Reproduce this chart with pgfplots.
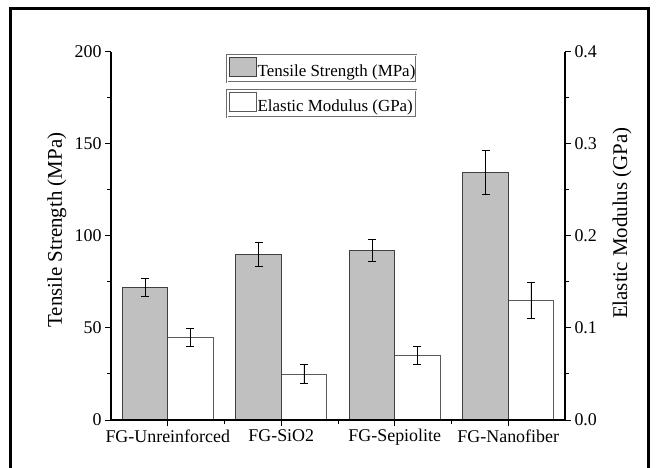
\documentclass[border=0pt]{standalone}
\usepackage{pgfplots}
\pgfplotsset{compat=1.18}
\usepackage{fontspec}
\setmainfont{Liberation Serif}

\definecolor{barfill}{RGB}{192,192,192}
\definecolor{barline}{RGB}{64,64,64}
\definecolor{whiteline}{RGB}{90,90,90}
\definecolor{legframe}{RGB}{110,110,110}

\pgfplotsset{
  twin/.style={
    scale only axis, width=454bp, height=368bp,
    at={(111bp,48bp)}, anchor=south west,
    xmin=-0.5, xmax=3.5,
    axis on top,
    axis line style={line width=1.1bp},
    tick style={black, line width=1bp},
    major tick length=6bp, minor tick length=4bp,
    tick align=outside,
    tick label style={font=\fontsize{18}{20}\selectfont},
    /pgf/number format/assume math mode=true,
    label style={font=\fontsize{21}{24}\selectfont},
    legend style={draw=legframe, double=white, double distance=1bp, line width=0.6bp,
      inner xsep=1.5bp, inner ysep=2bp, font=\fontsize{17}{19}\selectfont,
      anchor=north west, nodes={inner xsep=1bp}},
    ybar, bar width=45.4bp,
    clip=false,
  },
}

\begin{document}
\begin{tikzpicture}
\useasboundingbox (0,0) rectangle (657bp,468bp);
\draw[line width=3bp] (10.5bp,-2bp) -- (10.5bp,459.5bp) -- (648.5bp,459.5bp) -- (648.5bp,-2bp);

% right axis first: white bars, elastic modulus
\begin{axis}[twin,
    axis x line=none, axis y line*=right,
    ymin=0, ymax=0.4,
    ytick={0,0.1,0.2,0.3,0.4}, minor ytick={0.05,0.15,0.25,0.35},
    yticklabel style={/pgf/number format/fixed, /pgf/number format/fixed zerofill, /pgf/number format/precision=1},
    ylabel={Elastic Modulus (GPa)},
    ylabel style={at={(axis description cs:1.1256,0.535)}, anchor=center},
    legend style={at={(axis description cs:0.2555,0.897)}},
]
\addplot[bar shift=22.7bp, fill=white, draw=whiteline, line width=0.8bp,
    legend image code/.code={\draw[fill=white, draw=whiteline, line width=0.8bp] (0bp,-5bp) rectangle (27bp,14bp);},
    error bars/.cd, y dir=both, y explicit,
    error bar style={black, line width=0.8bp},
    error mark options={black, rotate=90, mark size=4bp, line width=0.8bp}]
  coordinates {(0,0.09) +- (0,0.01) (1,0.05) +- (0,0.01) (2,0.07) +- (0,0.01) (3,0.13) +- (0,0.02)};
\addlegendentry{\makebox[156bp][l]{Elastic Modulus (GPa)}}
\end{axis}

% left axis: grey bars, tensile strength
\begin{axis}[twin,
    axis x line*=bottom, axis y line*=left,
    ymin=0, ymax=200,
    ytick={0,50,100,150,200}, minor ytick={25,75,125,175},
    xtick={0,1,2,3}, minor xtick={0.5,1.5,2.5},
    xticklabels={FG-Unreinforced, FG-SiO2, FG-Sepiolite, FG-Nanofiber},
    ylabel={Tensile Strength (MPa)},
    ylabel style={at={(axis description cs:-0.119,0.516)}, anchor=center},
    legend style={at={(axis description cs:0.2555,0.992)}},
]
\addplot[bar shift=-22.7bp, fill=barfill, draw=barline, line width=0.8bp,
    legend image code/.code={\draw[fill=barfill, draw=barline, line width=0.8bp] (0bp,-5bp) rectangle (27bp,14bp);},
    error bars/.cd, y dir=both, y explicit,
    error bar style={black, line width=0.8bp},
    error mark options={black, rotate=90, mark size=4bp, line width=0.8bp}]
  coordinates {(0,72) +- (0,5) (1,90) +- (0,6.5) (2,92) +- (0,6) (3,134.7) +- (0,12)};
\addlegendentry{\makebox[156bp][l]{Tensile Strength (MPa)}}
\end{axis}
\end{tikzpicture}
\end{document}
